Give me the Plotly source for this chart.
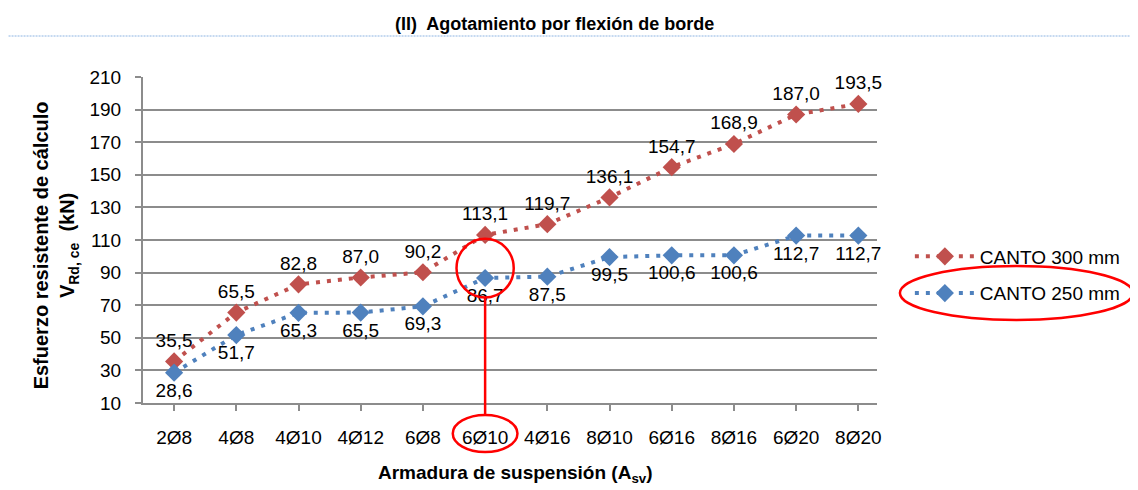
import plotly.graph_objects as go

CATEGORIAS = ["2Ø8", "4Ø8", "4Ø10", "4Ø12", "6Ø8", "6Ø10",
              "4Ø16", "8Ø10", "6Ø16", "8Ø16", "6Ø20", "8Ø20"]
CANTO_300 = [35.5, 65.5, 82.8, 87.0, 90.2, 113.1, 119.7, 136.1, 154.7, 168.9, 187.0, 193.5]
CANTO_250 = [28.6, 51.7, 65.3, 65.5, 69.3, 86.7, 87.5, 99.5, 100.6, 100.6, 112.7, 112.7]
Y_TICKS = list(range(10, 211, 20))
DESTACADO = "6Ø10"

ROJO = "#C0504D"
AZUL = "#4F81BD"
FUENTE = "Liberation Sans, Arial, sans-serif"

# la página tiene 8 px de margen, la figura ocupa el resto de la ventana
OFF = 8
W, H = 1138 - OFF, 490 - OFF
L, R, T, B = 143 - OFF, 258, 77 - OFF, 87


def px_x(px):
    return (px - OFF - L) / (W - L - R)


def px_y(py):
    return (H - B - (py - OFF)) / (H - T - B)


def _fmt(v):
    return f"{v:.1f}".replace(".", ",")


fig = go.Figure()
for nombre, vals, color, pos in [
    ("CANTO 300 mm", CANTO_300, ROJO, "top center"),
    ("CANTO 250 mm", CANTO_250, AZUL, "bottom center"),
]:
    fig.add_trace(go.Scatter(
        x=CATEGORIAS,
        y=vals,
        mode="lines+markers+text",
        name=nombre,
        legendgroup=nombre,
        line=dict(color=color, width=4, dash="4px,7px"),
        marker=dict(symbol="diamond", size=14, color=color),
        text=[_fmt(v) for v in vals],
        textposition=pos,
        textfont=dict(family=FUENTE, size=19, color="black"),
        cliponaxis=False,
    ))

# marca roja alrededor del punto destacado
i = CATEGORIAS.index(DESTACADO)
v = CANTO_250[i]
rojo = dict(color="red", width=2.5)
fig.add_shape(type="circle", xref="x", yref="y",
              x0=i - 0.46, x1=i + 0.46, y0=v - 12, y1=v + 24, line=rojo)
fig.add_shape(type="line", xref="x", yref="y",
              x0=i, x1=i, y0=v - 12, y1=Y_TICKS[0], line=rojo)
fig.add_shape(type="line", xref="x", yref="paper",
              x0=i, x1=i, y0=0, y1=px_y(415), line=rojo)
fig.add_shape(type="circle", xref="x", yref="paper",
              x0=i - 0.52, x1=i + 0.52, y0=px_y(452), y1=px_y(415), line=rojo)
fig.add_shape(type="circle", xref="paper", yref="paper",
              x0=px_x(903), x1=px_x(1137), y0=px_y(320), y1=px_y(266), line=rojo)

# línea punteada azul bajo el título
fig.add_shape(type="line", xref="paper", yref="paper",
              x0=px_x(OFF), x1=px_x(1138), y0=px_y(36), y1=px_y(36),
              line=dict(color="#8DB4E2", width=1, dash="2px,1px"))

fig.add_annotation(
    text="<b>(II)  Agotamiento por flexión de borde</b>",
    xref="paper", yref="paper", x=px_x(556), y=px_y(24),
    xanchor="center", yanchor="middle",
    showarrow=False, font=dict(family=FUENTE, size=18, color="black"),
)
fig.add_annotation(
    text="<b>Esfuerzo resistente de cálculo<br>V<sub>Rd, ce</sub>  (kN)</b>",
    xref="paper", yref="paper", x=px_x(55), y=px_y(245),
    xanchor="center", yanchor="middle",
    textangle=-90, showarrow=False,
    font=dict(family=FUENTE, size=20, color="black"),
)
fig.add_annotation(
    text="<b>Armadura de suspensión (A<sub>sv</sub>)</b>",
    xref="paper", yref="paper", x=px_x(517), y=px_y(474),
    xanchor="center", yanchor="middle",
    showarrow=False, font=dict(family=FUENTE, size=19, color="black"),
)

fig.update_layout(
    width=W, height=H,
    margin=dict(l=L, r=R, t=T, b=B),
    plot_bgcolor="white",
    paper_bgcolor="white",
    font=dict(family=FUENTE, size=19, color="black"),
    showlegend=True,
    legend=dict(
        x=px_x(913), y=px_y(275), xanchor="left", yanchor="middle",
        font=dict(family=FUENTE, size=19, color="black"),
        itemwidth=60, tracegroupgap=9, bgcolor="rgba(0,0,0,0)",
    ),
    xaxis=dict(
        type="category", range=[-0.5, 11.3],
        showgrid=False, showline=True, linecolor="#8C8C8C", linewidth=2,
        ticks="outside", ticklen=6, tickcolor="#8C8C8C", tickwidth=1.5,
        tickfont=dict(family=FUENTE, size=19), ticklabelstandoff=10,
    ),
    yaxis=dict(
        range=[Y_TICKS[0], Y_TICKS[-1]], tickvals=Y_TICKS,
        showgrid=True, gridcolor="#8C8C8C", gridwidth=2,
        showline=True, linecolor="#8C8C8C", linewidth=2,
        ticks="outside", ticklen=6, tickcolor="#8C8C8C", tickwidth=1.5,
        tickfont=dict(family=FUENTE, size=19), zeroline=False,
        ticklabelstandoff=10,
    ),
)

fig.write_html("out.html")
